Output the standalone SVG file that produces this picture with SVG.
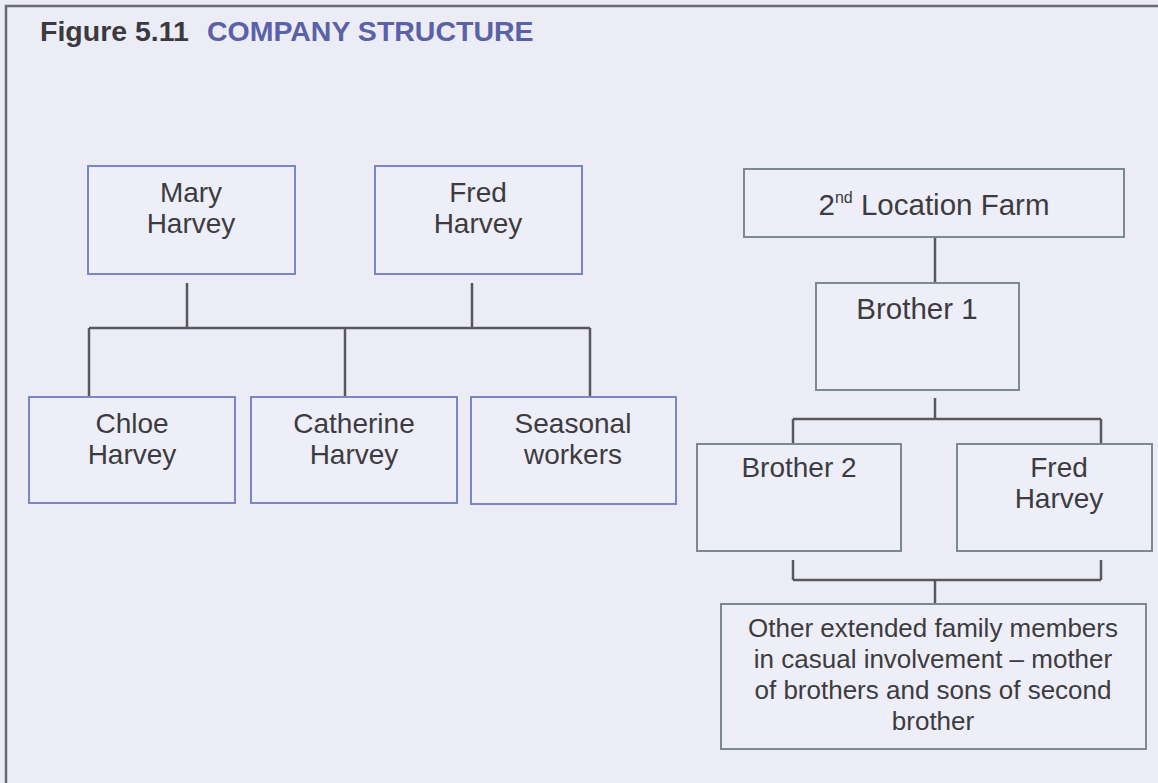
<svg xmlns="http://www.w3.org/2000/svg" width="1158" height="783" viewBox="0 0 1158 783">
  <style>
    .bg { fill: #ECECF6; }
    .frame { fill: none; stroke: #6A6A70; stroke-width: 2.5; }
    .title { font-family: "Liberation Sans", Arial, sans-serif; font-weight: bold; font-size: 28.5px; }
    .fig { fill: #3A3A3E; }
    .head { fill: #5A61A8; }
    .box-a { fill: #EEEEF8; stroke: #7E85C6; stroke-width: 2; }
    .box-b { fill: #EEEEF8; stroke: #7C8A8E; stroke-width: 2; }
    .label { font-family: "Liberation Sans", Arial, sans-serif; font-size: 28px; fill: #3C3C40; text-anchor: middle; }
    .big { font-size: 29.5px; }
    .small { font-size: 26px; }
    .sup { font-size: 16px; }
    .link { fill: none; stroke: #58585C; stroke-width: 2.5; }
  </style>

  <rect class="bg" x="0" y="0" width="1158" height="783"/>
  <rect class="frame" x="6" y="6" width="1170" height="800"/>

  <text class="title" x="40" y="41"><tspan class="fig">Figure 5.11</tspan><tspan class="head" dx="18">COMPANY STRUCTURE</tspan></text>

  <!-- connectors -->
  <g id="connectors">
    <path class="link" d="M187 283 V328 M472 283 V328 M89 328 H590 M89 328 V397 M345 328 V397 M590 328 V397"/>
    <path class="link" d="M935 237 V283"/>
    <path class="link" d="M935 398 V419 M793 419 H1101 M793 419 V444 M1101 419 V444"/>
    <path class="link" d="M793 560 V580 M1101 560 V580 M793 580 H1101 M935 580 V604"/>
  </g>

  <!-- left family tree -->
  <g id="mary-harvey">
    <rect class="box-a" x="88" y="166" width="207" height="108"/>
    <text class="label" x="191" y="202">Mary</text>
    <text class="label" x="191" y="233">Harvey</text>
  </g>
  <g id="fred-harvey">
    <rect class="box-a" x="375" y="166" width="207" height="108"/>
    <text class="label" x="478" y="202">Fred</text>
    <text class="label" x="478" y="233">Harvey</text>
  </g>
  <g id="chloe-harvey">
    <rect class="box-a" x="29" y="397" width="206" height="106"/>
    <text class="label" x="132" y="433">Chloe</text>
    <text class="label" x="132" y="464">Harvey</text>
  </g>
  <g id="catherine-harvey">
    <rect class="box-a" x="251" y="397" width="206" height="106"/>
    <text class="label" x="354" y="433">Catherine</text>
    <text class="label" x="354" y="464">Harvey</text>
  </g>
  <g id="seasonal-workers">
    <rect class="box-a" x="471" y="397" width="205" height="107"/>
    <text class="label" x="573" y="433">Seasonal</text>
    <text class="label" x="573" y="464">workers</text>
  </g>

  <!-- second location -->
  <g id="second-location">
    <rect class="box-b" x="744" y="169" width="380" height="68"/>
    <text class="label big" x="934" y="215">2<tspan class="sup" dy="-12">nd</tspan><tspan dy="12"> Location Farm</tspan></text>
  </g>
  <g id="brother-1">
    <rect class="box-b" x="816" y="283" width="203" height="107"/>
    <text class="label big" x="917" y="319">Brother 1</text>
  </g>
  <g id="brother-2">
    <rect class="box-b" x="697" y="444" width="204" height="107"/>
    <text class="label" x="799" y="477">Brother 2</text>
  </g>
  <g id="fred-harvey-2">
    <rect class="box-b" x="957" y="444" width="195" height="107"/>
    <text class="label" x="1059" y="477">Fred</text>
    <text class="label" x="1059" y="508">Harvey</text>
  </g>
  <g id="extended-family">
    <rect class="box-b" x="721" y="604" width="425" height="145"/>
    <text class="label small" x="933" y="637">Other extended family members</text>
    <text class="label small" x="933" y="668">in casual involvement – mother</text>
    <text class="label small" x="933" y="699">of brothers and sons of second</text>
    <text class="label small" x="933" y="730">brother</text>
  </g>
</svg>
